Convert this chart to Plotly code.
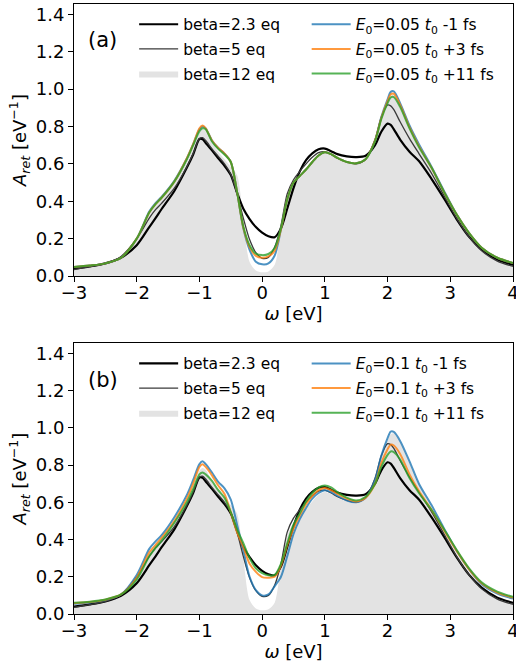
import plotly.graph_objects as go

# frequency grid [eV]
omega = [-3.0, -2.75, -2.5, -2.25, -2.0, -1.8, -1.7, -1.6, -1.4, -1.2, -1.1, -1.0, -0.95, -0.9,
         -0.8, -0.7, -0.6, -0.5, -0.4, -0.3, -0.2, -0.1, 0.0, 0.1, 0.2, 0.3, 0.4, 0.5, 0.6, 0.7,
         0.8, 0.9, 1.0, 1.1, 1.2, 1.35, 1.5, 1.65, 1.8, 1.9, 2.0, 2.05, 2.1, 2.2, 2.35, 2.5, 2.7,
         2.9, 3.1, 3.3, 3.5, 3.75, 4.0]

# equilibrium spectra (same in both panels)
beta23_eq = [0.040, 0.052, 0.068, 0.098, 0.165, 0.262, 0.31, 0.36, 0.455, 0.58, 0.65, 0.733, 0.732, 0.712,
             0.672, 0.63, 0.59, 0.54, 0.445, 0.36, 0.305, 0.262, 0.232, 0.213, 0.208, 0.255, 0.36, 0.47, 0.56, 0.62,
             0.656, 0.678, 0.682, 0.668, 0.652, 0.64, 0.636, 0.643, 0.70, 0.772, 0.815, 0.808, 0.785, 0.73, 0.665, 0.615, 0.52,
             0.415, 0.305, 0.21, 0.142, 0.088, 0.06]
beta5_eq = [0.035, 0.05, 0.068, 0.105, 0.20, 0.31, 0.355, 0.39, 0.47, 0.585, 0.655, 0.735, 0.74, 0.725,
            0.68, 0.64, 0.60, 0.545, 0.44, 0.31, 0.195, 0.125, 0.095, 0.10, 0.155, 0.27, 0.44, 0.515, 0.56, 0.60,
            0.635, 0.66, 0.665, 0.65, 0.63, 0.61, 0.60, 0.625, 0.73, 0.85, 0.915, 0.91, 0.89, 0.825, 0.735, 0.655, 0.55,
            0.43, 0.31, 0.21, 0.135, 0.08, 0.052]
beta12_eq = [0.04, 0.05, 0.066, 0.10, 0.19, 0.33, 0.38, 0.42, 0.50, 0.615, 0.69, 0.77, 0.785, 0.775,
             0.71, 0.665, 0.625, 0.585, 0.54, 0.30, 0.075, 0.03, 0.02, 0.025, 0.06, 0.26, 0.42, 0.49, 0.53, 0.565,
             0.605, 0.64, 0.655, 0.645, 0.625, 0.605, 0.597, 0.62, 0.72, 0.84, 0.93, 0.965, 0.97, 0.925, 0.81, 0.70, 0.575,
             0.445, 0.325, 0.225, 0.15, 0.095, 0.065]

# panel (a): E0 = 0.05
a_m1 = [0.048, 0.056, 0.068, 0.098, 0.20, 0.345, 0.39, 0.425, 0.51, 0.63, 0.705, 0.785, 0.80, 0.79,
        0.725, 0.685, 0.655, 0.61, 0.45, 0.255, 0.14, 0.077, 0.063, 0.068, 0.11, 0.25, 0.41, 0.50, 0.535, 0.57,
        0.61, 0.645, 0.662, 0.652, 0.632, 0.61, 0.603, 0.625, 0.725, 0.85, 0.945, 0.985, 0.988, 0.925, 0.805, 0.705, 0.585,
        0.455, 0.33, 0.23, 0.152, 0.098, 0.07]
a_p3 = [0.048, 0.056, 0.068, 0.098, 0.20, 0.34, 0.385, 0.42, 0.505, 0.63, 0.705, 0.79, 0.805, 0.79,
        0.725, 0.685, 0.655, 0.61, 0.45, 0.26, 0.155, 0.108, 0.098, 0.105, 0.135, 0.25, 0.41, 0.50, 0.535, 0.57,
        0.61, 0.645, 0.662, 0.652, 0.632, 0.61, 0.603, 0.625, 0.725, 0.845, 0.935, 0.972, 0.975, 0.915, 0.795, 0.695, 0.58,
        0.45, 0.33, 0.23, 0.152, 0.098, 0.07]
a_p11 = [0.048, 0.056, 0.068, 0.098, 0.20, 0.34, 0.385, 0.42, 0.505, 0.625, 0.70, 0.775, 0.79, 0.785,
         0.72, 0.68, 0.65, 0.61, 0.45, 0.265, 0.165, 0.12, 0.112, 0.118, 0.15, 0.255, 0.41, 0.50, 0.535, 0.57,
         0.61, 0.645, 0.662, 0.652, 0.632, 0.61, 0.603, 0.625, 0.72, 0.84, 0.925, 0.955, 0.957, 0.905, 0.79, 0.69, 0.58,
         0.45, 0.33, 0.23, 0.152, 0.098, 0.07]

# panel (b): E0 = 0.1
b_m1 = [0.055, 0.062, 0.075, 0.105, 0.21, 0.35, 0.39, 0.425, 0.52, 0.64, 0.72, 0.805, 0.82, 0.805,
        0.76, 0.71, 0.675, 0.615, 0.48, 0.342, 0.20, 0.128, 0.10, 0.105, 0.15, 0.20, 0.31, 0.43, 0.51, 0.57,
        0.62, 0.65, 0.665, 0.655, 0.635, 0.61, 0.60, 0.625, 0.72, 0.85, 0.945, 0.98, 0.978, 0.93, 0.82, 0.70, 0.585,
        0.46, 0.34, 0.24, 0.16, 0.11, 0.083]
b_p3 = [0.058, 0.064, 0.077, 0.105, 0.195, 0.33, 0.37, 0.41, 0.50, 0.62, 0.70, 0.79, 0.805, 0.79,
        0.745, 0.69, 0.645, 0.545, 0.44, 0.36, 0.27, 0.226, 0.198, 0.195, 0.20, 0.26, 0.37, 0.46, 0.53, 0.59,
        0.635, 0.665, 0.677, 0.665, 0.645, 0.62, 0.605, 0.625, 0.70, 0.81, 0.885, 0.91, 0.905, 0.86, 0.75, 0.66, 0.56,
        0.45, 0.34, 0.24, 0.165, 0.115, 0.088]
b_p11 = [0.06, 0.066, 0.078, 0.105, 0.185, 0.31, 0.355, 0.395, 0.49, 0.60, 0.67, 0.75, 0.76, 0.75,
         0.715, 0.665, 0.625, 0.547, 0.455, 0.38, 0.30, 0.245, 0.22, 0.208, 0.21, 0.27, 0.38, 0.48, 0.54, 0.605,
         0.65, 0.68, 0.69, 0.68, 0.655, 0.625, 0.61, 0.63, 0.70, 0.79, 0.855, 0.873, 0.87, 0.83, 0.73, 0.65, 0.56,
         0.455, 0.345, 0.245, 0.17, 0.12, 0.092]

x_ticks = [-3, -2, -1, 0, 1, 2, 3, 4]
y_ticks = [0.0, 0.2, 0.4, 0.6, 0.8, 1.0, 1.2, 1.4]

FONT = "DejaVu Sans"
BLUE = "rgba(31,119,180,0.8)"
ORANGE = "rgba(255,127,14,0.8)"
GREEN = "rgba(44,160,44,0.8)"

fig = go.Figure()

panels = [
    ("x", "y", "legend", "legend2", "0.05", a_m1, a_p3, a_p11, "a"),
    ("x2", "y2", "legend3", "legend4", "0.1", b_m1, b_p3, b_p11, "b"),
]
for xa, ya, lg1, lg2, e0, m1, p3, p11, tag in panels:
    fig.add_trace(go.Scatter(x=omega, y=beta12_eq, xaxis=xa, yaxis=ya, mode="lines",
                             line=dict(width=0, shape="spline", smoothing=0.8, color="#e3e3e3"),
                             fill="tozeroy", fillcolor="#e3e3e3", name="beta=12 eq",
                             legend=lg1, legendrank=3, legendgroup=tag + "3"))
    fig.add_trace(go.Scatter(x=omega, y=beta23_eq, xaxis=xa, yaxis=ya, mode="lines",
                             line=dict(width=2.2, color="black", shape="spline", smoothing=0.8),
                             name="beta=2.3 eq", legend=lg1, legendrank=1, legendgroup=tag + "1"))
    fig.add_trace(go.Scatter(x=omega, y=beta5_eq, xaxis=xa, yaxis=ya, mode="lines",
                             line=dict(width=1.3, color="#3a3a3a", shape="spline", smoothing=0.8),
                             name="beta=5 eq", legend=lg1, legendrank=2, legendgroup=tag + "2"))
    for vals, col, lab, rk in [(m1, BLUE, "-1 fs", 4), (p3, ORANGE, "+3 fs", 5), (p11, GREEN, "+11 fs", 6)]:
        fig.add_trace(go.Scatter(x=omega, y=vals, xaxis=xa, yaxis=ya, mode="lines",
                                 line=dict(width=2, color=col, shape="spline", smoothing=0.8),
                                 name="<i>E</i><sub>0</sub>=%s <i>t</i><sub>0</sub> %s" % (e0, lab),
                                 legend=lg2, legendrank=rk, legendgroup=tag + str(rk)))

axis_common = dict(showline=True, linecolor="black", linewidth=1, mirror=True,
                   ticks="outside", ticklen=5, tickwidth=1, tickcolor="black",
                   showgrid=False, zeroline=False, automargin=False,
                   tickfont=dict(family=FONT, size=18, color="black"))

xcommon = dict(axis_common, range=[-3, 4], tickvals=x_ticks, ticklabeloverflow="allow",
               ticklabelstandoff=-5,
               title=dict(text="<i>ω</i> [eV]", font=dict(family=FONT, size=18, color="black"), standoff=0))
ycommon = dict(axis_common, range=[0, 1.455], tickvals=y_ticks, tickformat=".1f",
               title=dict(text="<i>A</i><sub><i>ret</i></sub> [eV<sup>−1</sup>]",
                          font=dict(family=FONT, size=18, color="black"), standoff=4))

leg_common = dict(bgcolor="rgba(0,0,0,0)", borderwidth=0, xanchor="left", yanchor="top",
                  font=dict(family=FONT, size=15.5, color="black"), itemwidth=39,
                  tracegroupgap=1.5, traceorder="grouped")

fig.update_layout(
    width=516, height=666,
    margin=dict(l=74, r=3, t=4, b=52, autoexpand=False),
    paper_bgcolor="white", plot_bgcolor="white",
    font=dict(family=FONT, color="black"),
    xaxis=dict(xcommon, domain=[0, 1], anchor="y"),
    yaxis=dict(ycommon, domain=[0.554, 1.0], anchor="x"),
    xaxis2=dict(xcommon, domain=[0, 1], anchor="y2"),
    yaxis2=dict(ycommon, domain=[0.0, 0.444], anchor="x2"),
    legend=dict(leg_common, x=0.137, y=0.994),
    legend2=dict(leg_common, x=0.53, y=0.994),
    legend3=dict(leg_common, x=0.137, y=0.438),
    legend4=dict(leg_common, x=0.53, y=0.438),
    annotations=[
        dict(text="(a)", x=0.066, y=0.941, xref="paper", yref="paper", showarrow=False,
             xanchor="center", yanchor="middle",
             font=dict(family=FONT, size=21, color="black")),
        dict(text="(b)", x=0.066, y=0.384, xref="paper", yref="paper", showarrow=False,
             xanchor="center", yanchor="middle",
             font=dict(family=FONT, size=21, color="black")),
    ],
)

fig.write_html("out.html", config={"displayModeBar": False},
               post_script="document.body.style.margin='0';document.body.style.overflow='hidden';")
